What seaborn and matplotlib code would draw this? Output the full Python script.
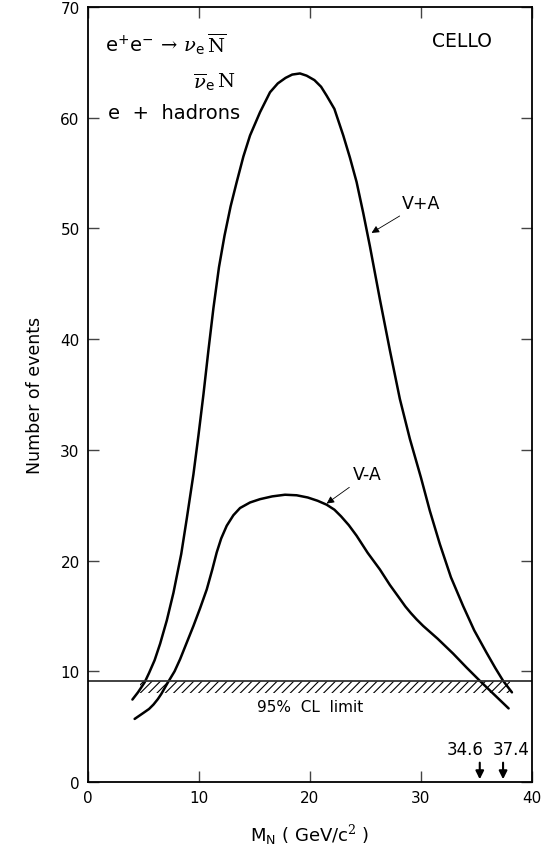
import numpy as np
import pandas as pd
import matplotlib
matplotlib.use("Agg")
import matplotlib.pyplot as plt
import seaborn as sns

# ---- data ----
vpa_x = [4.0, 4.5, 5.1, 5.5, 6.0, 6.5, 7.1, 7.7, 8.4, 8.9, 9.5, 9.95, 10.4, 10.85, 11.3,
         11.8, 12.3, 12.85, 13.4, 14.0, 14.6, 15.5, 16.4, 17.1, 17.8, 18.4, 19.1, 19.7,
         20.4, 21.0, 21.5, 22.2, 23.0, 23.6, 24.2, 24.8, 25.4, 25.85, 26.3, 27.2, 28.1,
         29.0, 30.0, 30.8, 31.7, 32.7, 33.8, 34.8, 35.9, 36.7, 37.4, 38.2]
vpa_y = [7.45, 8.1, 9.0, 9.85, 11.0, 12.5, 14.6, 17.1, 20.6, 23.8, 27.8, 31.3, 35.0, 39.0, 42.8,
         46.5, 49.35, 52.0, 54.2, 56.5, 58.4, 60.5, 62.3, 63.1, 63.6, 63.9, 64.0, 63.8,
         63.4, 62.8, 62.0, 60.8, 58.4, 56.4, 54.2, 51.4, 48.4, 46.0, 43.6, 39.0, 34.6,
         31.0, 27.5, 24.5, 21.5, 18.5, 15.9, 13.7, 11.7, 10.3, 9.15, 8.1]
vma_x = [4.2, 5.0, 5.5, 5.9, 6.3, 6.6, 7.2, 7.8, 8.3, 8.9, 9.5, 10.1, 10.7, 11.2, 11.6, 12.0,
         12.5, 13.1, 13.7, 14.6, 15.5, 16.6, 17.75, 18.8, 19.8, 20.7, 21.5, 22.2, 22.8, 23.5,
         24.2, 25.2, 26.3, 27.2, 28.1, 28.6, 29.1, 29.6, 30.2, 31.5, 32.9, 34.1, 35.3, 36.6, 37.9]
vma_y = [5.7, 6.25, 6.6, 7.0, 7.5, 7.95, 9.0, 10.0, 11.1, 12.6, 14.1, 15.7, 17.4, 19.2, 20.75,
         22.0, 23.15, 24.1, 24.75, 25.25, 25.55, 25.8, 25.95, 25.9, 25.7, 25.4, 25.05, 24.6,
         24.0, 23.2, 22.25, 20.7, 19.2, 17.8, 16.55, 15.85, 15.25, 14.7, 14.1, 12.95, 11.6,
         10.35, 9.15, 7.9, 6.65]
cl_limit = 9.15
cl_band_low = 8.0
cl_band_x = [4.7, 38.0]
limit_marks = [35.3, 37.4]
limit_labels = ["34.6", "37.4"]
limit_label_x = [34.0, 38.1]
x_ticks = [0, 10, 20, 30, 40]
y_ticks = [0, 10, 20, 30, 40, 50, 60, 70]

sns.set_theme(style="ticks")
plt.rcParams['font.family'] = ['DejaVu Sans']
plt.rcParams['hatch.linewidth'] = 0.8
plt.rcParams['text.color'] = 'black'
plt.rcParams['axes.labelcolor'] = 'black'
plt.rcParams['xtick.color'] = 'black'
plt.rcParams['ytick.color'] = 'black'
plt.rcParams['mathtext.fontset'] = 'custom'
plt.rcParams['mathtext.rm'] = 'DejaVu Serif'
plt.rcParams['mathtext.sf'] = 'DejaVu Sans'
plt.rcParams['mathtext.it'] = 'DejaVu Serif:italic'

fig = plt.figure(figsize=(5.45, 8.54), dpi=100)
ax = fig.add_axes([0.1615, 0.0831, 0.8145, 0.9075])

df_pa = pd.DataFrame({"x": vpa_x, "y": vpa_y})
df_ma = pd.DataFrame({"x": vma_x, "y": vma_y})
sns.lineplot(data=df_pa, x="x", y="y", ax=ax, color="black", lw=1.8, sort=False, estimator=None)
sns.lineplot(data=df_ma, x="x", y="y", ax=ax, color="black", lw=1.8, sort=False, estimator=None)

ax.axhline(cl_limit, color="#333333", lw=1.3)
ax.fill_between(cl_band_x, cl_band_low, cl_limit, facecolor="none", edgecolor="black",
                hatch="////", lw=0)
ax.text(20.0, 6.8, "95%  CL  limit", ha="center", va="center", fontsize=11)

for xm, lx, lab in zip(limit_marks, limit_label_x, limit_labels):
    ax.annotate("", xy=(xm, 0), xytext=(xm, 2.0),
                arrowprops=dict(arrowstyle="-|>", color="black", lw=1.5, mutation_scale=12))
    ax.text(lx, 2.95, lab, ha="center", va="center", fontsize=12)

ax.annotate("V+A", xy=(25.55, 49.6), xytext=(28.3, 52.3), fontsize=12.5, va="center", ha="left",
            arrowprops=dict(arrowstyle="-|>", color="black", lw=0.6, mutation_scale=11, shrinkA=1, shrinkB=0))
ax.annotate("V-A", xy=(21.5, 25.15), xytext=(23.9, 27.8), fontsize=12.5, va="center", ha="left",
            arrowprops=dict(arrowstyle="-|>", color="black", lw=0.6, mutation_scale=11, shrinkA=1, shrinkB=0))

ax.text(1.5, 66.7, r"$\mathsf{e^{+}e^{-}}\,\rightarrow\,\nu_{\mathsf{e}}\,\overline{\mathrm{N}}$",
        fontsize=14, ha="left", va="center")
ax.text(13.3, 63.3, r"$\overline{\nu}_{\mathsf{e}}\,\mathrm{N}$", fontsize=14, ha="right", va="center")
ax.text(1.8, 60.5, "e  +  hadrons", fontsize=14, ha="left", va="center")
ax.text(33.7, 67.0, "CELLO", fontsize=13.5, ha="center", va="center")

ax.set_xlim(0, 40)
ax.set_ylim(0, 70)
ax.set_xticks(x_ticks)
ax.set_yticks(y_ticks)
ax.tick_params(direction="in", length=8, width=1.0, top=True, right=True, labelsize=11,
               color="#444444", pad=6)
for s in ax.spines.values():
    s.set_linewidth(1.3)
    s.set_color("black")

ax.set_xlabel(r"M$_\mathregular{N}$ ( GeV/c$^2$ )", fontsize=13, labelpad=12)
ax.set_ylabel("Number of events", fontsize=12.5, labelpad=12)

fig.savefig("out.png", dpi=100, facecolor="white")
